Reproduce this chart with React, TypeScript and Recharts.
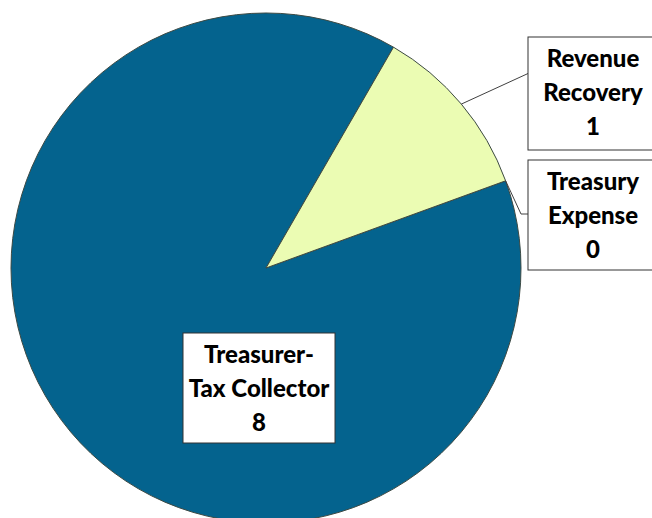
import { PieChart, Pie, Cell } from 'recharts';

const departments = ['Treasurer-Tax Collector', 'Revenue Recovery', 'Treasury Expense'];
const counts = [8, 1, 0];
const labelLines = [
  ['Treasurer-', 'Tax Collector'],
  ['Revenue', 'Recovery'],
  ['Treasury', 'Expense'],
];

const colors = ['#04638e', '#ebfcb3', '#ebfcb3'];

// box placement relative to the pie centre
const boxes = [
  { dx: -83, dy: 65, w: 152, h: 110, leader: false },
  { dx: 262, dy: -231, w: 130, h: 113, leader: true },
  { dx: 262, dy: -108, w: 130, h: 110, leader: true },
];

const data = departments.map((name, i) => ({ name, value: counts[i] }));

const RADIAN = Math.PI / 180;

const renderLabel = (props: any) => {
  const { cx, cy, midAngle, outerRadius, index, value } = props;
  const b = boxes[index];
  const x = cx + b.dx;
  const y = cy + b.dy;
  const lines = [...labelLines[index], String(value)];
  const px = cx + outerRadius * Math.cos(-midAngle * RADIAN);
  const py = cy + outerRadius * Math.sin(-midAngle * RADIAN);
  const ly = y + b.h / 2 + (index === 2 ? -1 : -20);
  let path = '';
  if (b.leader) {
    path = index === 2
      ? `M${px},${py} L${x - 7},${ly} L${x},${ly}`
      : `M${px},${py} L${x},${ly}`;
  }
  return (
    <g key={`lbl-${index}`}>
      {path && <path d={path} stroke="#404040" strokeWidth={1} fill="none" />}
      <rect x={x} y={y} width={b.w} height={b.h} fill="#ffffff" stroke="#333333" strokeWidth={1} />
      {lines.map((t, j) => (
        <text
          key={j}
          x={x + b.w / 2}
          y={y + 24 + j * 34}
          textAnchor="middle"
          dominantBaseline="middle"
          fontFamily="Lato, 'Open Sans', sans-serif"
          fontWeight={900}
          fontSize={24}
          fill="#000000"
        >
          {t}
        </text>
      ))}
    </g>
  );
};

export default function App() {
  return (
    <div style={{ position: 'absolute', left: 0, top: 0, background: '#ffffff' }}>
      <PieChart width={652} height={518} margin={{ top: 0, right: 0, bottom: 0, left: 0 }}>
        <Pie
          data={data}
          dataKey="value"
          nameKey="name"
          cx={266}
          cy={268}
          outerRadius={255}
          startAngle={20}
          endAngle={-340}
          stroke="#3d4a44"
          strokeWidth={1}
          label={renderLabel}
          labelLine={false}
          isAnimationActive={false}
        >
          {data.map((d, i) => (
            <Cell key={d.name} fill={colors[i]} />
          ))}
        </Pie>
      </PieChart>
    </div>
  );
}
